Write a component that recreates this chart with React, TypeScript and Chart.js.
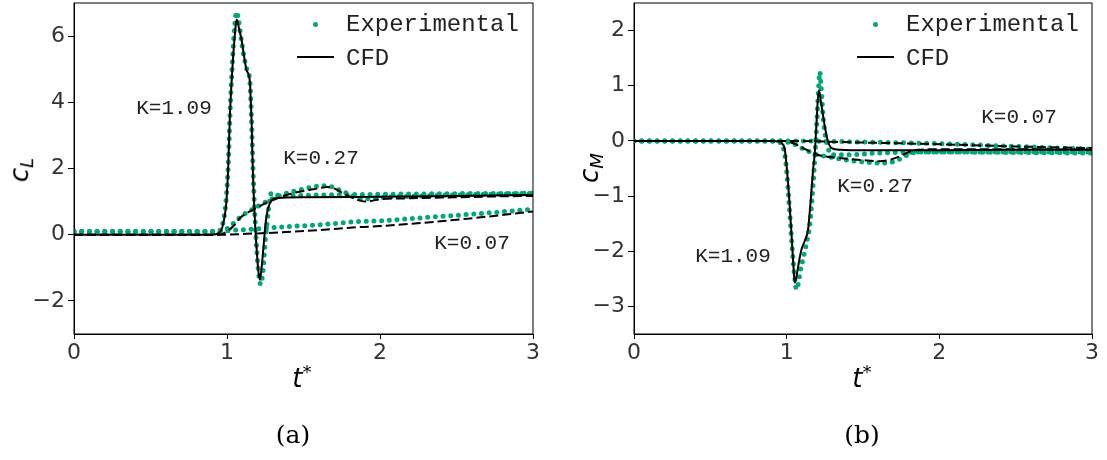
import React, { useEffect, useRef } from "react";
import { Chart, registerables } from "chart.js";

Chart.register(...registerables);

const GREEN = "#03a678";

// ---------- Panel (a): lift coefficient c_L ----------
const tA_cfd109 = [0, 0.9, 0.954, 0.976, 0.997, 1.008, 1.019, 1.035, 1.052, 1.063, 1.08, 1.096, 1.113, 1.128, 1.15, 1.155, 1.161, 1.168, 1.176, 1.185, 1.194, 1.205, 1.215, 1.225, 1.237, 1.255, 1.281, 1.325, 1.5, 2.0, 2.5, 3.0];
const cL_cfd109 = [0, 0, 0.08, 0.35, 1.05, 2.06, 3.6, 5.0, 6.08, 6.5, 6.2, 5.87, 5.35, 4.97, 4.6, 4.07, 3.4, 2.06, 1.05, 0.2, -0.45, -1.1, -1.36, -1.05, -0.45, 0.45, 0.96, 1.11, 1.13, 1.15, 1.17, 1.2];

const tA_exp109 = [0, 0.9, 0.95, 0.975, 0.995, 1.008, 1.02, 1.035, 1.05, 1.063, 1.075, 1.09, 1.11, 1.13, 1.15, 1.16, 1.17, 1.18, 1.195, 1.21, 1.22, 1.235, 1.25, 1.27, 1.29, 1.32, 1.4, 1.6, 2.0, 2.5, 3.0];
const cL_exp109 = [0.1, 0.1, 0.12, 0.4, 1.1, 2.1, 3.7, 5.2, 6.3, 6.73, 6.5, 6.0, 5.4, 5.0, 4.6, 3.5, 2.0, 0.8, -0.5, -1.3, -1.5, -1.1, -0.2, 0.7, 1.26, 1.2, 1.18, 1.2, 1.22, 1.24, 1.25];

const tA_cfd027 = [0, 0.95, 1.0, 1.05, 1.084, 1.14, 1.194, 1.25, 1.302, 1.37, 1.433, 1.5, 1.564, 1.62, 1.652, 1.7, 1.739, 1.78, 1.826, 1.87, 1.914, 2.0, 2.2, 2.5, 2.8, 3.0];
const cL_cfd027 = [0, 0, 0.1, 0.3, 0.5, 0.68, 0.81, 0.95, 1.05, 1.17, 1.26, 1.32, 1.37, 1.42, 1.44, 1.4, 1.3, 1.2, 1.1, 1.03, 1.0, 1.07, 1.1, 1.13, 1.16, 1.17];

const tA_exp027 = [0, 0.95, 1.0, 1.05, 1.1, 1.15, 1.2, 1.25, 1.3, 1.4, 1.5, 1.6, 1.65, 1.7, 1.75, 1.8, 1.85, 1.9, 2.0, 2.5, 3.0];
const cL_exp027 = [0.1, 0.1, 0.18, 0.38, 0.58, 0.72, 0.85, 0.98, 1.1, 1.27, 1.38, 1.47, 1.48, 1.42, 1.32, 1.22, 1.12, 1.08, 1.12, 1.2, 1.25];

const tA_cfd007 = [0, 0.95, 1.2, 1.35, 1.6, 1.87, 2.0, 2.5, 3.0];
const cL_cfd007 = [0, 0, 0.04, 0.07, 0.14, 0.23, 0.26, 0.45, 0.7];

const tA_exp007 = [0, 0.95, 1.0, 1.2, 1.35, 1.6, 1.87, 2.0, 2.3, 2.6, 3.0];
const cL_exp007 = [0.1, 0.1, 0.12, 0.18, 0.23, 0.3, 0.4, 0.42, 0.52, 0.62, 0.77];

// ---------- Panel (b): moment coefficient c_M ----------
const tB_cfd109 = [0, 0.9, 0.95, 0.97, 0.988, 1.009, 1.031, 1.045, 1.053, 1.065, 1.08, 1.097, 1.12, 1.14, 1.158, 1.173, 1.184, 1.195, 1.21, 1.225, 1.25, 1.27, 1.294, 1.35, 1.5, 2.0, 2.5, 3.0];
const cM_cfd109 = [0, 0, -0.01, -0.05, -0.16, -0.76, -1.66, -2.3, -2.57, -2.45, -2.2, -1.97, -1.8, -1.61, -1.06, -0.52, -0.22, 0.3, 0.92, 0.7, 0.26, 0.0, -0.13, -0.16, -0.17, -0.17, -0.16, -0.16];

const tB_exp109 = [0, 0.9, 0.95, 0.975, 0.995, 1.015, 1.035, 1.05, 1.064, 1.075, 1.09, 1.11, 1.13, 1.15, 1.165, 1.18, 1.195, 1.208, 1.217, 1.225, 1.24, 1.26, 1.28, 1.3, 1.4, 1.6, 2.0, 2.5, 3.0];
const cM_exp109 = [0, 0, -0.02, -0.1, -0.4, -1.1, -1.9, -2.4, -2.69, -2.6, -2.35, -2.1, -1.85, -1.55, -1.1, -0.5, 0.2, 0.9, 1.25, 1.0, 0.4, 0.0, -0.2, -0.25, -0.25, -0.22, -0.2, -0.2, -0.2];

const tB_cfd027 = [0, 0.98, 1.05, 1.12, 1.2, 1.35, 1.5, 1.61, 1.68, 1.74, 1.8, 1.86, 2.0, 2.5, 3.0];
const cM_cfd027 = [0, 0, -0.05, -0.15, -0.25, -0.31, -0.35, -0.37, -0.34, -0.28, -0.2, -0.16, -0.15, -0.15, -0.16];

const tB_exp027 = [0, 0.95, 1.05, 1.12, 1.2, 1.3, 1.4, 1.5, 1.6, 1.7, 1.76, 1.82, 1.9, 2.0, 2.5, 3.0];
const cM_exp027 = [0, 0, -0.06, -0.16, -0.25, -0.3, -0.35, -0.38, -0.4, -0.38, -0.3, -0.22, -0.2, -0.2, -0.21, -0.22];

const tB_cfd007 = [0, 1.0, 1.5, 2.0, 2.5, 3.0];
const cM_cfd007 = [0, 0, -0.03, -0.06, -0.1, -0.13];

const tB_exp007 = [0, 1.0, 1.5, 2.0, 2.5, 3.0];
const cM_exp007 = [0, 0, -0.02, -0.05, -0.1, -0.15];

// ---------- Axes ----------
const X_TICKS = [0, 1, 2, 3];
const Y_TICKS_A = [-2, 0, 2, 4, 6];
const Y_TICKS_B = [-3, -2, -1, 0, 1, 2];

type Series = { t: number[]; v: number[]; kind: "exp" | "solid" | "dash" };

const SERIES_A: Series[] = [
  { t: tA_cfd109, v: cL_cfd109, kind: "solid" },
  { t: tA_cfd027, v: cL_cfd027, kind: "dash" },
  { t: tA_cfd007, v: cL_cfd007, kind: "dash" },
  { t: tA_exp109, v: cL_exp109, kind: "exp" },
  { t: tA_exp027, v: cL_exp027, kind: "exp" },
  { t: tA_exp007, v: cL_exp007, kind: "exp" },
];

const SERIES_B: Series[] = [
  { t: tB_cfd109, v: cM_cfd109, kind: "solid" },
  { t: tB_cfd027, v: cM_cfd027, kind: "dash" },
  { t: tB_cfd007, v: cM_cfd007, kind: "dash" },
  { t: tB_exp109, v: cM_exp109, kind: "exp" },
  { t: tB_exp027, v: cM_exp027, kind: "exp" },
  { t: tB_exp007, v: cM_exp007, kind: "exp" },
];

const fmt = (v: number) => String(v).replace("-", "\u2212");

const framePlugin = {
  id: "frame",
  afterDraw(chart: any) {
    const { ctx, chartArea: a } = chart;
    ctx.save();
    ctx.strokeStyle = "#000";
    ctx.lineWidth = 1;
    ctx.strokeRect(a.left, a.top, a.right - a.left, a.bottom - a.top);
    ctx.restore();
  },
};

function Panel(props: {
  series: Series[];
  yMin: number;
  yMax: number;
  yTicks: number[];
  width: number;
  height: number;
  padRight: number;
  left: number;
}) {
  const ref = useRef<HTMLCanvasElement>(null);
  useEffect(() => {
    const canvas = ref.current!;
    const datasets = props.series.map((s) => ({
      data: s.t.map((x, i) => ({ x, y: s.v[i] })),
      borderColor: s.kind === "exp" ? GREEN : "#000",
      borderWidth: s.kind === "exp" ? 5 : 2,
      borderDash: s.kind === "exp" ? [0, 7.7] : s.kind === "dash" ? [9, 4] : [],
      borderCapStyle: s.kind === "exp" ? "round" : "butt",
      pointRadius: 0,
      cubicInterpolationMode: "monotone",
      fill: false,
      order: s.kind === "exp" ? 2 : 1,
    }));
    const tickFont = { family: "'DejaVu Sans', sans-serif", size: 22 };
    const chart = new Chart(canvas, {
      type: "line",
      data: { datasets } as any,
      plugins: [framePlugin],
      options: {
        responsive: false,
        animation: false,
        events: [],
        layout: { padding: { top: 3, right: props.padRight, bottom: 0, left: 0 } },
        plugins: { legend: { display: false }, tooltip: { enabled: false } },
        scales: {
          x: {
            type: "linear",
            min: 0,
            max: 3,
            afterBuildTicks: (s: any) => {
              s.ticks = X_TICKS.map((value) => ({ value }));
            },
            afterFit: (s: any) => {
              s.height = 66;
              s.paddingLeft = 0;
              s.paddingRight = 0;
            },
            grid: { drawOnChartArea: false, color: "#000", tickLength: 5 },
            border: { color: "#000" },
            ticks: {
              font: tickFont,
              color: "#333",
              padding: 1,
              maxRotation: 0,
              autoSkip: false,
              callback: (v: any) => fmt(v),
            },
          },
          y: {
            type: "linear",
            min: props.yMin,
            max: props.yMax,
            afterBuildTicks: (s: any) => {
              s.ticks = props.yTicks.map((value) => ({ value }));
            },
            afterFit: (s: any) => {
              s.width = 74;
              s.paddingTop = 0;
              s.paddingBottom = 0;
            },
            grid: { drawOnChartArea: false, color: "#000", tickLength: 6 },
            border: { color: "#000" },
            ticks: {
              font: tickFont,
              color: "#333",
              padding: 3,
              autoSkip: false,
              callback: (v: any) => fmt(v),
            },
          },
        },
      } as any,
    });
    return () => chart.destroy();
  }, []);
  return (
    <canvas
      ref={ref}
      width={props.width}
      height={props.height}
      style={{ position: "absolute", left: props.left, top: 0, width: props.width, height: props.height }}
    />
  );
}

const Txt = (p: { x: number; y: number; children: any; style?: any; anchor?: "c" | "l" }) => (
  <div
    style={{
      position: "absolute",
      left: p.x,
      top: p.y,
      transform: p.anchor === "l" ? "translate(0,-50%)" : "translate(-50%,-50%)",
      whiteSpace: "nowrap",
      lineHeight: 1,
      ...p.style,
    }}
  >
    {p.children}
  </div>
);

const MONO = { fontFamily: "'Liberation Mono', 'Courier New', monospace", color: "#222" };
const MATH = { fontFamily: "'DejaVu Sans', sans-serif", fontSize: 26, color: "#000" };
const CAP = { fontFamily: "'DejaVu Serif', serif", fontSize: 25, color: "#000" };

function Legend({ dx }: { dx: number }) {
  return (
    <>
      <div
        style={{
          position: "absolute",
          left: dx + 312.5,
          top: 21.5,
          width: 5,
          height: 5,
          borderRadius: "50%",
          background: GREEN,
        }}
      />
      <Txt x={dx + 346} y={25} anchor="l" style={{ ...MONO, fontSize: 24 }}>
        Experimental
      </Txt>
      <div style={{ position: "absolute", left: dx + 297, top: 56, width: 37, height: 2, background: "#000" }} />
      <Txt x={dx + 346} y={59} anchor="l" style={{ ...MONO, fontSize: 24 }}>
        CFD
      </Txt>
    </>
  );
}

export default function App() {
  return (
    <div
      style={{
        position: "absolute",
        left: 0,
        top: 0,
        width: 1107,
        height: 460,
        background: "#fff",
        overflow: "hidden",
      }}
    >
      <Panel series={SERIES_A} yMin={-3} yMax={7} yTicks={Y_TICKS_A} width={560} height={400} padRight={27} left={0} />
      <Panel series={SERIES_B} yMin={-3.5} yMax={2.5} yTicks={Y_TICKS_B} width={547} height={400} padRight={15} left={560} />

      <Legend dx={0} />
      <Legend dx={560} />

      <Txt x={174} y={108} style={{ ...MONO, fontSize: 21 }}>K=1.09</Txt>
      <Txt x={321} y={158} style={{ ...MONO, fontSize: 21 }}>K=0.27</Txt>
      <Txt x={472} y={243} style={{ ...MONO, fontSize: 21 }}>K=0.07</Txt>

      <Txt x={1019} y={117} style={{ ...MONO, fontSize: 21 }}>K=0.07</Txt>
      <Txt x={875} y={186} style={{ ...MONO, fontSize: 21 }}>K=0.27</Txt>
      <Txt x={733} y={256} style={{ ...MONO, fontSize: 21 }}>K=1.09</Txt>

      <Txt x={21} y={170} style={{ ...MATH, transform: "translate(-50%,-50%) rotate(-90deg)" }}>
        <i>c</i>
        <i style={{ fontSize: "0.7em", verticalAlign: "-0.25em" }}>L</i>
      </Txt>
      <Txt x={591} y={168} style={{ ...MATH, transform: "translate(-50%,-50%) rotate(-90deg)" }}>
        <i>c</i>
        <i style={{ fontSize: "0.7em", verticalAlign: "-0.25em" }}>M</i>
      </Txt>

      <Txt x={302} y={377} style={MATH}>
        <i>t</i>
        <span style={{ fontSize: "0.7em", verticalAlign: "0.5em" }}>*</span>
      </Txt>
      <Txt x={862} y={377} style={MATH}>
        <i>t</i>
        <span style={{ fontSize: "0.7em", verticalAlign: "0.5em" }}>*</span>
      </Txt>

      <Txt x={293} y={434} style={CAP}>(a)</Txt>
      <Txt x={862} y={434} style={CAP}>(b)</Txt>
    </div>
  );
}
